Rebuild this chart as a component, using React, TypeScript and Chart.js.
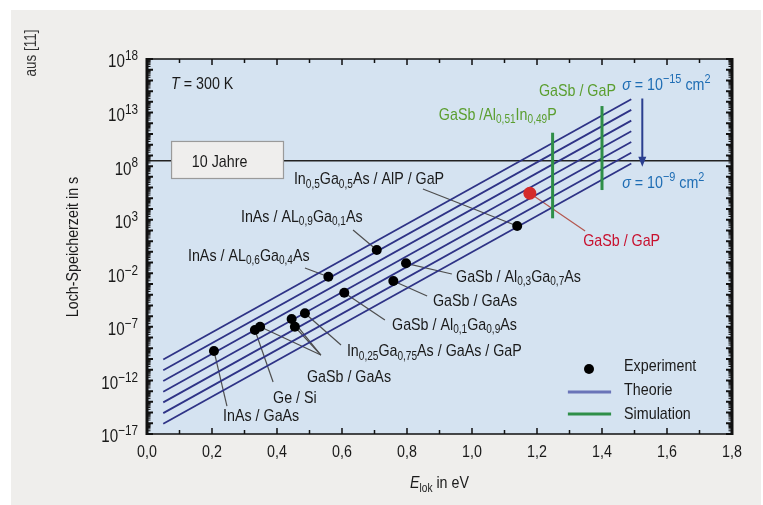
import React, { useEffect, useRef } from "react";
import { Chart, registerables } from "chart.js";
Chart.register(...registerables);

const FONT = '"Liberation Sans", Arial, sans-serif';
const SX = 0.84; // horizontal condensing of text

// Theory lines (sigma = 1e-15 ... 1e-9 cm^2), log10 of storage time at start/end energy
const THEORY_E = [0.05, 1.49];
const THEORY_START_LOG = [-10.05, -11.05, -12.05, -13.05, -14.05, -15.05, -16.05];
const THEORY_END_LOG = [14.25, 13.25, 12.25, 11.25, 10.25, 9.25, 8.25];

// Experiment points
const EXP_E = [0.206, 0.332, 0.348, 0.445, 0.455, 0.486, 0.558, 0.607, 0.707, 0.758, 0.797, 1.139];
const EXP_LOG = [-9.25, -7.29, -6.99, -6.27, -6.99, -5.73, -2.32, -3.81, 0.17, -2.72, -1.07, 2.41];

// Red highlighted point (GaSb / GaP)
const RED_E = [1.178];
const RED_LOG = [5.47];

// Simulation ranges
const SIM_E = [1.248, 1.4];
const SIM_TOP_LOG = [11.12, 13.61];
const SIM_BOTTOM_LOG = [3.13, 5.77];

// 10 years in seconds
const TEN_YEARS = 3.15e8;

// sigma arrow
const ARROW_E = 1.524;
const ARROW_LOG = [14.32, 7.95];

const X_TICKS = [0, 0.2, 0.4, 0.6, 0.8, 1.0, 1.2, 1.4, 1.6, 1.8];
const X_TICK_LABELS = ["0,0", "0,2", "0,4", "0,6", "0,8", "1,0", "1,2", "1,4", "1,6", "1,8"];
const Y_LABEL_EXPS = [18, 13, 8, 3, -2, -7, -12, -17];

// Text labels (position in data units: E, log10 tau)
const LABELS = [
  { t: "*T* = 300 K", e: 0.074, l: 15.76, c: "#1a1a1a" },
  { t: "In_{0,5}Ga_{0,5}As / AlP / GaP", e: 0.452, l: 6.89, c: "#1a1a1a" },
  { t: "InAs / AL_{0,9}Ga_{0,1}As", e: 0.289, l: 3.35, c: "#1a1a1a" },
  { t: "InAs / AL_{0,6}Ga_{0,4}As", e: 0.126, l: -0.29, c: "#1a1a1a" },
  { t: "GaSb / Al_{0,3}Ga_{0,7}As", e: 0.951, l: -2.25, c: "#1a1a1a" },
  { t: "GaSb / GaAs", e: 0.88, l: -4.49, c: "#1a1a1a" },
  { t: "GaSb / Al_{0,1}Ga_{0,9}As", e: 0.754, l: -6.73, c: "#1a1a1a" },
  { t: "In_{0,25}Ga_{0,75}As / GaAs / GaP", e: 0.615, l: -9.16, c: "#1a1a1a" },
  { t: "GaSb / GaAs", e: 0.492, l: -11.59, c: "#1a1a1a" },
  { t: "Ge / Si", e: 0.388, l: -13.55, c: "#1a1a1a" },
  { t: "InAs / GaAs", e: 0.234, l: -15.23, c: "#1a1a1a" },
  { t: "GaSb / GaP", e: 1.342, l: 1.11, c: "#c8102e" },
  { t: "GaSb / GaP", e: 1.206, l: 15.11, c: "#5a9e2f" },
  { t: "GaSb /Al_{0,51}In_{0,49}P", e: 0.898, l: 12.87, c: "#5a9e2f" },
  { t: "*σ* = 10^{−15} cm^{2}", e: 1.462, l: 15.67, c: "#1e6db4" },
  { t: "*σ* = 10^{−9} cm^{2}", e: 1.462, l: 6.52, c: "#1e6db4" },
];

// Leader lines: from experiment point index to label end (data units)
const LEADERS = [
  { p: 11, e: 0.849, l: 5.87 },
  { p: 8, e: 0.634, l: 2.04 },
  { p: 6, e: 0.486, l: -1.51 },
  { p: 10, e: 0.938, l: -2.07 },
  { p: 9, e: 0.862, l: -4.12 },
  { p: 7, e: 0.732, l: -6.36 },
  { p: 5, e: 0.597, l: -8.69 },
  { p: 2, e: 0.535, l: -9.63 },
  { p: 3, e: 0.535, l: -9.63 },
  { p: 4, e: 0.535, l: -9.63 },
  { p: 1, e: 0.388, l: -12.15 },
  { p: 0, e: 0.246, l: -14.39 },
];
const RED_LEADER = { e: 1.348, l: 1.95 };

type Seg = { text: string; kind: "n" | "sub" | "sup" | "it" };
function parseRich(s: string): Seg[] {
  const segs: Seg[] = [];
  let i = 0;
  let buf = "";
  const push = () => {
    if (buf) {
      segs.push({ text: buf, kind: "n" });
      buf = "";
    }
  };
  while (i < s.length) {
    const ch = s[i];
    if ((ch === "_" || ch === "^") && s[i + 1] === "{") {
      push();
      const j = s.indexOf("}", i + 2);
      segs.push({ text: s.slice(i + 2, j), kind: ch === "_" ? "sub" : "sup" });
      i = j + 1;
      continue;
    }
    if (ch === "*") {
      push();
      const j = s.indexOf("*", i + 1);
      segs.push({ text: s.slice(i + 1, j), kind: "it" });
      i = j + 1;
      continue;
    }
    buf += ch;
    i++;
  }
  push();
  return segs;
}

function drawRich(
  ctx: CanvasRenderingContext2D,
  s: string,
  x: number,
  y: number,
  size: number,
  color: string,
  align: "left" | "right" | "center" = "left"
) {
  const segs = parseRich(s);
  const subSize = Math.round(size * 0.68);
  const supSize = Math.round(size * 0.78);
  const fontFor = (k: string) =>
    k === "sub"
      ? `${subSize}px ${FONT}`
      : k === "sup"
      ? `${supSize}px ${FONT}`
      : k === "it"
      ? `italic ${size}px ${FONT}`
      : `${size}px ${FONT}`;
  let w = 0;
  for (const sg of segs) {
    ctx.font = fontFor(sg.kind);
    w += ctx.measureText(sg.text).width * SX;
  }
  let cx = align === "left" ? x : align === "right" ? x - w : x - w / 2;
  ctx.fillStyle = color;
  ctx.textBaseline = "alphabetic";
  ctx.textAlign = "left";
  const base = y + size * 0.36;
  for (const sg of segs) {
    ctx.font = fontFor(sg.kind);
    const dy = sg.kind === "sub" ? size * 0.2 : sg.kind === "sup" ? -size * 0.4 : 0;
    ctx.save();
    ctx.translate(cx, base + dy);
    ctx.scale(SX, 1);
    ctx.fillText(sg.text, 0, 0);
    ctx.restore();
    cx += ctx.measureText(sg.text).width * SX;
  }
}

const decoPlugin = {
  id: "deco",
  beforeDraw(chart: any) {
    const ctx = chart.ctx as CanvasRenderingContext2D;
    const a = chart.chartArea;
    ctx.save();
    ctx.fillStyle = "#ffffff";
    ctx.fillRect(0, 0, chart.width, chart.height);
    ctx.fillStyle = "#efeeec";
    ctx.fillRect(11, 10, 750, 495);
    ctx.fillStyle = "#d5e3f1";
    ctx.fillRect(a.left, a.top, a.right - a.left, a.bottom - a.top);
    ctx.restore();
  },
  beforeDatasetsDraw(chart: any) {
    const ctx = chart.ctx as CanvasRenderingContext2D;
    const xs = chart.scales.x;
    const ys = chart.scales.y;
    ctx.save();
    ctx.lineWidth = 1.2;
    ctx.strokeStyle = "#4d4d4d";
    for (const ld of LEADERS) {
      ctx.beginPath();
      ctx.moveTo(xs.getPixelForValue(EXP_E[ld.p]), ys.getPixelForValue(10 ** EXP_LOG[ld.p]));
      ctx.lineTo(xs.getPixelForValue(ld.e), ys.getPixelForValue(10 ** ld.l));
      ctx.stroke();
    }
    ctx.strokeStyle = "#b4574f";
    ctx.beginPath();
    ctx.moveTo(xs.getPixelForValue(RED_E[0]), ys.getPixelForValue(10 ** RED_LOG[0]));
    ctx.lineTo(xs.getPixelForValue(RED_LEADER.e), ys.getPixelForValue(10 ** RED_LEADER.l));
    ctx.stroke();
    ctx.restore();
  },
  afterDatasetsDraw(chart: any) {
    const ctx = chart.ctx as CanvasRenderingContext2D;
    const a = chart.chartArea;
    const xs = chart.scales.x;
    const ys = chart.scales.y;
    const px = (e: number) => xs.getPixelForValue(e);
    const py = (l: number) => ys.getPixelForValue(10 ** l);
    ctx.save();

    // arrow head
    const ax = px(ARROW_E);
    const ay = py(ARROW_LOG[1]);
    ctx.fillStyle = "#2b3f8f";
    ctx.beginPath();
    ctx.moveTo(ax, ay);
    ctx.lineTo(ax - 4, ay - 10);
    ctx.lineTo(ax + 4, ay - 10);
    ctx.closePath();
    ctx.fill();

    // 10 Jahre box
    const bx0 = px(0.074), bx1 = px(0.4215);
    const by0 = py(10.35), by1 = py(6.8);
    ctx.fillStyle = "#efeeed";
    ctx.fillRect(bx0, by0, bx1 - bx0, by1 - by0);
    ctx.strokeStyle = "#9a9a9a";
    ctx.lineWidth = 1.2;
    ctx.strokeRect(bx0 + 0.5, by0 + 0.5, bx1 - bx0 - 1, by1 - by0 - 1);
    drawRich(ctx, "10 Jahre", px(0.138), py(8.48), 17, "#1a1a1a");

    // labels
    for (const lb of LABELS) {
      drawRich(ctx, lb.t, px(lb.e), py(lb.l), 17, lb.c);
    }

    // legend
    ctx.fillStyle = "#000";
    ctx.beginPath();
    ctx.arc(px(1.36), py(-10.93), 5, 0, Math.PI * 2);
    ctx.fill();
    ctx.lineWidth = 3;
    ctx.strokeStyle = "#6a74b8";
    ctx.beginPath();
    ctx.moveTo(px(1.295), py(-13.08));
    ctx.lineTo(px(1.428), py(-13.08));
    ctx.stroke();
    ctx.strokeStyle = "#2f8f48";
    ctx.beginPath();
    ctx.moveTo(px(1.295), py(-15.13));
    ctx.lineTo(px(1.428), py(-15.13));
    ctx.stroke();
    drawRich(ctx, "Experiment", px(1.468), py(-10.56), 17, "#1a1a1a");
    drawRich(ctx, "Theorie", px(1.468), py(-12.8), 17, "#1a1a1a");
    drawRich(ctx, "Simulation", px(1.468), py(-15.04), 17, "#1a1a1a");

    // axes frame
    ctx.strokeStyle = "#111";
    ctx.lineWidth = 1.5;
    ctx.beginPath();
    ctx.moveTo(a.left, a.top);
    ctx.lineTo(a.right, a.top);
    ctx.moveTo(a.left, a.bottom);
    ctx.lineTo(a.right, a.bottom);
    ctx.stroke();
    ctx.lineWidth = 3;
    ctx.beginPath();
    ctx.moveTo(a.left, a.top - 1);
    ctx.lineTo(a.left, a.bottom + 1);
    ctx.moveTo(a.right, a.top - 1);
    ctx.lineTo(a.right, a.bottom + 1);
    ctx.stroke();

    // x ticks
    ctx.lineWidth = 1.5;
    for (let i = 1; i < 18; i++) {
      const x = px(i / 10);
      const len = i % 2 === 0 ? 6 : 4;
      ctx.beginPath();
      ctx.moveTo(x, a.top);
      ctx.lineTo(x, a.top + len);
      ctx.moveTo(x, a.bottom);
      ctx.lineTo(x, a.bottom - len);
      ctx.stroke();
    }
    // y ticks
    for (let k = -17; k <= 18; k++) {
      const y = ys.getPixelForValue(10 ** k);
      ctx.lineWidth = 2;
      ctx.beginPath();
      ctx.moveTo(a.left, y);
      ctx.lineTo(a.left + 6, y);
      ctx.moveTo(a.right, y);
      ctx.lineTo(a.right - 6, y);
      ctx.stroke();
      if (k < 18) {
        ctx.lineWidth = 1;
        for (let m = 2; m <= 9; m++) {
          const ym = ys.getPixelForValue(m * 10 ** k);
          ctx.beginPath();
          ctx.moveTo(a.left, ym);
          ctx.lineTo(a.left + 3.5, ym);
          ctx.moveTo(a.right, ym);
          ctx.lineTo(a.right - 3.5, ym);
          ctx.stroke();
        }
      }
    }

    // tick labels
    X_TICKS.forEach((v, i) => {
      drawRich(ctx, X_TICK_LABELS[i], px(v), a.bottom + 17, 17, "#1a1a1a", "center");
    });
    Y_LABEL_EXPS.forEach((k) => {
      const s = "10^{" + (k < 0 ? "−" + -k : String(k)) + "}";
      drawRich(ctx, s, a.left - 9, ys.getPixelForValue(10 ** k) + 2, 18, "#1a1a1a", "right");
    });

    // axis titles
    drawRich(ctx, "*E*_{lok} in eV", (a.left + a.right) / 2, 482, 17, "#1a1a1a", "center");
    ctx.save();
    ctx.translate(72, 247);
    ctx.rotate(-Math.PI / 2);
    drawRich(ctx, "Loch-Speicherzeit in s", 0, 0, 17, "#1a1a1a", "center");
    ctx.restore();
    ctx.save();
    ctx.translate(30, 53);
    ctx.rotate(-Math.PI / 2);
    drawRich(ctx, "aus [11]", 0, 0, 16, "#333", "center");
    ctx.restore();

    ctx.restore();
  },
};

export default function App() {
  const ref = useRef<HTMLCanvasElement | null>(null);
  useEffect(() => {
    if (!ref.current) return;
    const pt = (e: number, l: number) => ({ x: e, y: 10 ** l });
    const lineDs = (data: any[], color: string, width: number, order: number) => ({
      type: "line" as const,
      data,
      borderColor: color,
      backgroundColor: color,
      borderWidth: width,
      pointRadius: 0,
      showLine: true,
      fill: false,
      order,
    });
    const datasets: any[] = [
      {
        type: "scatter",
        data: EXP_E.map((e, i) => pt(e, EXP_LOG[i])),
        pointRadius: 5,
        pointBackgroundColor: "#000",
        pointBorderWidth: 0,
        order: 0,
      },
      {
        type: "scatter",
        data: RED_E.map((e, i) => pt(e, RED_LOG[i])),
        pointRadius: 6.5,
        pointBackgroundColor: "#d42a2a",
        pointBorderWidth: 0,
        order: 1,
      },
      ...SIM_E.map((e, i) =>
        lineDs([pt(e, SIM_BOTTOM_LOG[i]), pt(e, SIM_TOP_LOG[i])], "#2f8f48", 3, 2)
      ),
      lineDs([pt(ARROW_E, ARROW_LOG[0]), pt(ARROW_E, ARROW_LOG[1] + 0.8)], "#2b3f8f", 2, 3),
      ...THEORY_START_LOG.map((s, i) =>
        lineDs([pt(THEORY_E[0], s), pt(THEORY_E[1], THEORY_END_LOG[i])], "#2e3386", 1.8, 4)
      ),
      lineDs([{ x: 0, y: TEN_YEARS }, { x: 1.8, y: TEN_YEARS }], "#222", 1.5, 5),
    ];
    const chart = new Chart(ref.current, {
      type: "scatter",
      data: { datasets },
      options: {
        responsive: false,
        maintainAspectRatio: false,
        animation: false,
        layout: { padding: { left: 147, top: 59, right: 31, bottom: 71 } },
        scales: {
          x: { type: "linear", min: 0, max: 1.8, display: false },
          y: { type: "logarithmic", min: 1e-17, max: 1e18, display: false },
        },
        plugins: { legend: { display: false }, tooltip: { enabled: false } },
      },
      plugins: [decoPlugin],
    } as any);
    return () => chart.destroy();
  }, []);
  return (
    <div style={{ position: "absolute", left: 0, top: 0, width: 763, height: 505 }}>
      <canvas ref={ref} width={763} height={505} />
    </div>
  );
}
